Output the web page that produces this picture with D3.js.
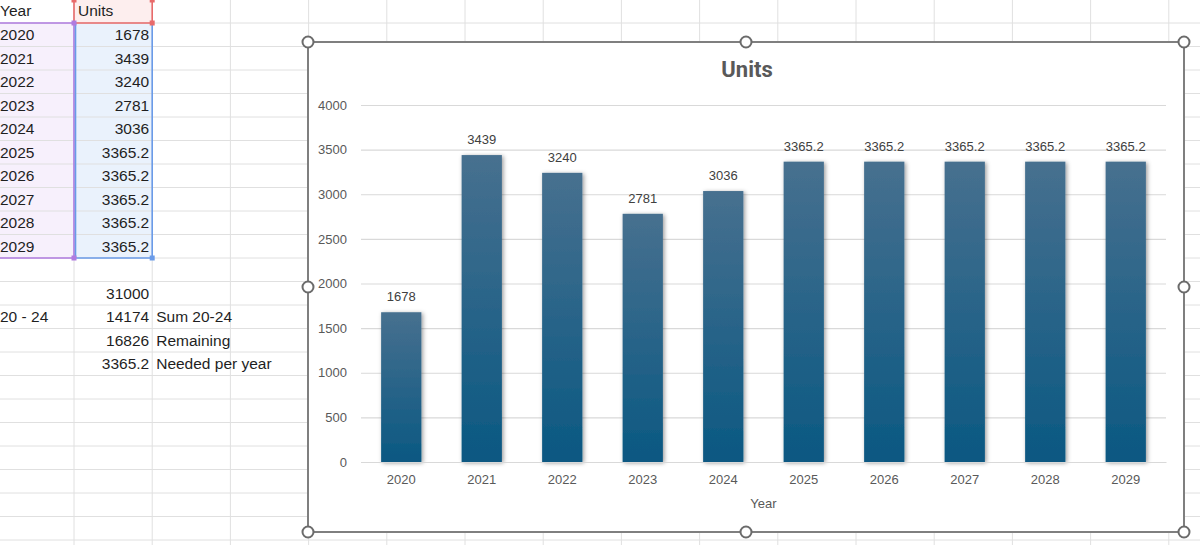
<!DOCTYPE html>
<html>
<head>
<meta charset="utf-8">
<script src="https://cdn.jsdelivr.net/npm/d3@7"></script>
<style>
  body { margin: 0; background: #fff; }
  svg { display: block; }
</style>
</head>
<body>
<svg width="1200" height="545"></svg>
<script>
// data
var years = ["2020","2021","2022","2023","2024","2025","2026","2027","2028","2029"];
var units = [1678, 3439, 3240, 2781, 3036, 3365.2, 3365.2, 3365.2, 3365.2, 3365.2];
var yTicks = [0, 500, 1000, 1500, 2000, 2500, 3000, 3500, 4000];
var extraA = ["", "20 - 24", "", ""];
var extraB = ["31000", "14174", "16826", "3365.2"];
var extraC = ["", "Sum 20-24", "Remaining", "Needed per year"];

var svg = d3.select("svg");
var W = 1200, H = 545;

// ---- spreadsheet grid ----
var rowH = 23.5, row0 = 23, colW = 78.2, col0 = 74;
var sheet = svg.append("g").attr("font-family", "Liberation Sans, Arial, sans-serif").attr("font-size", "15.5px").attr("fill", "#1f1f1f");
function rowTop(i) { return row0 + rowH * (i - 1); } // i=0 header

// range fills
sheet.append("rect").attr("x", 0).attr("y", rowTop(1)).attr("width", col0).attr("height", rowH * 10).attr("fill", "#f7f0fc");
sheet.append("rect").attr("x", col0).attr("y", rowTop(1)).attr("width", colW).attr("height", rowH * 10).attr("fill", "#eaf2fc");
sheet.append("rect").attr("x", col0).attr("y", -1).attr("width", colW).attr("height", row0 + 1).attr("fill", "#fdeeee");

var gridG = sheet.append("g").attr("stroke", "#e0e0e0").attr("stroke-width", 1);
d3.range(0, 24).forEach(function(k) {
  var y = rowTop(k);
  gridG.append("line").attr("x1", 0).attr("x2", W).attr("y1", y).attr("y2", y);
});
d3.range(0, 16).forEach(function(k) {
  var x = col0 + colW * k;
  gridG.append("line").attr("x1", x).attr("x2", x).attr("y1", 0).attr("y2", H);
});

// range borders
sheet.append("path").attr("d", "M0," + rowTop(1) + "H" + col0 + "V" + rowTop(11) + "H0")
  .attr("fill", "none").attr("stroke", "#b07be0").attr("stroke-width", 1.6);
sheet.append("path").attr("d", "M" + (col0 + 1.5) + "," + rowTop(1) + "V" + rowTop(11) + "H" + (col0 + colW) + "V" + rowTop(1))
  .attr("fill", "none").attr("stroke", "#6a9be8").attr("stroke-width", 1.6);
sheet.append("path").attr("d", "M" + col0 + ",-1V" + row0 + "H" + (col0 + colW) + "V-1")
  .attr("fill", "none").attr("stroke", "#e86a6a").attr("stroke-width", 1.6);
[[col0, rowTop(1), "#b07be0"], [col0, rowTop(11), "#b07be0"], [col0 + colW, rowTop(11), "#6a9be8"],
 [col0 + colW, row0, "#e86a6a"], [col0, 0, "#e86a6a"], [col0 + colW, 0, "#e86a6a"]].forEach(function(h) {
  sheet.append("rect").attr("x", h[0] - 2.5).attr("y", h[1] - 2.5).attr("width", 5).attr("height", 5).attr("fill", h[2]);
});

// cell texts
function base(i) { return rowTop(i) + 17; }
sheet.append("text").attr("x", 0).attr("y", base(0) - 1).text("Year");
sheet.append("text").attr("x", col0 + 4).attr("y", base(0) - 1).text("Units");
years.forEach(function(d, i) {
  sheet.append("text").attr("x", 0).attr("y", base(i + 1)).text(d);
  sheet.append("text").attr("x", col0 + colW - 3).attr("y", base(i + 1)).attr("text-anchor", "end").text(units[i]);
});
extraB.forEach(function(d, i) {
  var r = 12 + i;
  sheet.append("text").attr("x", 0).attr("y", base(r)).text(extraA[i]);
  sheet.append("text").attr("x", col0 + colW - 3).attr("y", base(r)).attr("text-anchor", "end").text(d);
  sheet.append("text").attr("x", col0 + colW + 4).attr("y", base(r)).text(extraC[i]);
});

// ---- chart ----
var box = {x: 308, y: 42, w: 876, h: 490};
var defs = svg.append("defs");
var grad = defs.append("linearGradient").attr("id", "barGrad").attr("x1", 0).attr("y1", 0).attr("x2", 0).attr("y2", 1);
grad.append("stop").attr("offset", "0%").attr("stop-color", "#47708f");
grad.append("stop").attr("offset", "100%").attr("stop-color", "#0a5882");
var shadow = defs.append("filter").attr("id", "shadow").attr("x", "-30%").attr("y", "-10%").attr("width", "160%").attr("height", "120%");
shadow.append("feDropShadow").attr("dx", 1.5).attr("dy", 1).attr("stdDeviation", 2.2).attr("flood-color", "#000").attr("flood-opacity", 0.4);

var chart = svg.append("g").attr("font-family", "Liberation Sans, Arial, sans-serif");
chart.append("rect").attr("x", box.x).attr("y", box.y).attr("width", box.w).attr("height", box.h)
  .attr("fill", "#fff").attr("stroke", "#7f7f7f").attr("stroke-width", 2);

var plot = {left: 361, right: 1166, top: 105, bottom: 462};
var x = d3.scaleBand().domain(years).range([plot.left, plot.right]).paddingInner(0.5).paddingOuter(0.25);
var y = d3.scaleLinear().domain([0, 4000]).range([plot.bottom, plot.top]);

chart.append("text").attr("x", box.x + box.w / 2 + 1).attr("y", 77)
  .attr("text-anchor", "middle").attr("font-family", "Roboto, sans-serif").attr("font-weight", "bold")
  .attr("font-size", "22px").attr("fill", "#595959").text("Units");

// y axis (gridlines + labels)
var yAxis = chart.append("g").attr("transform", "translate(" + plot.left + ",0)")
  .call(d3.axisLeft(y).tickValues(yTicks).tickSize(-(plot.right - plot.left)).tickPadding(14).tickFormat(d3.format("d")));
yAxis.select(".domain").remove();
yAxis.selectAll(".tick line").attr("stroke", "#d9d9d9").attr("stroke-width", 1.2);
yAxis.selectAll(".tick text").attr("font-size", "13px").attr("fill", "#595959").attr("font-family", "Liberation Sans, Arial, sans-serif");

// bars
chart.append("g").selectAll("rect").data(units).join("rect")
  .attr("x", function(d, i) { return x(years[i]); })
  .attr("y", function(d) { return y(d); })
  .attr("width", x.bandwidth())
  .attr("height", function(d) { return y(0) - y(d); })
  .attr("fill", "url(#barGrad)")
  .attr("filter", "url(#shadow)");

// data labels
chart.append("g").selectAll("text").data(units).join("text")
  .attr("x", function(d, i) { return x(years[i]) + x.bandwidth() / 2; })
  .attr("y", function(d) { return y(d) - 11; })
  .attr("text-anchor", "middle").attr("font-size", "13px").attr("fill", "#404040")
  .text(function(d) { return d; });

// x axis
var xAxis = chart.append("g").attr("transform", "translate(0," + plot.bottom + ")")
  .call(d3.axisBottom(x).tickSize(0).tickPadding(13));
xAxis.select(".domain").attr("stroke", "#d9d9d9").attr("stroke-width", 1.2);
xAxis.selectAll(".tick text").attr("font-size", "13px").attr("fill", "#595959").attr("font-family", "Liberation Sans, Arial, sans-serif");

chart.append("text").attr("x", (plot.left + plot.right) / 2).attr("y", 508)
  .attr("text-anchor", "middle").attr("font-size", "13px").attr("fill", "#595959").text("Year");

// selection handles
var hx = [box.x, box.x + box.w / 2, box.x + box.w], hy = [box.y, box.y + box.h / 2, box.y + box.h];
var handles = [];
hy.forEach(function(yy, j) { hx.forEach(function(xx, i) { if (!(i === 1 && j === 1)) handles.push([xx, yy]); }); });
chart.append("g").selectAll("circle").data(handles).join("circle")
  .attr("cx", function(d) { return d[0]; }).attr("cy", function(d) { return d[1]; }).attr("r", 5.5)
  .attr("fill", "#fff").attr("stroke", "#6b6b6b").attr("stroke-width", 2);
</script>
</body>
</html>
